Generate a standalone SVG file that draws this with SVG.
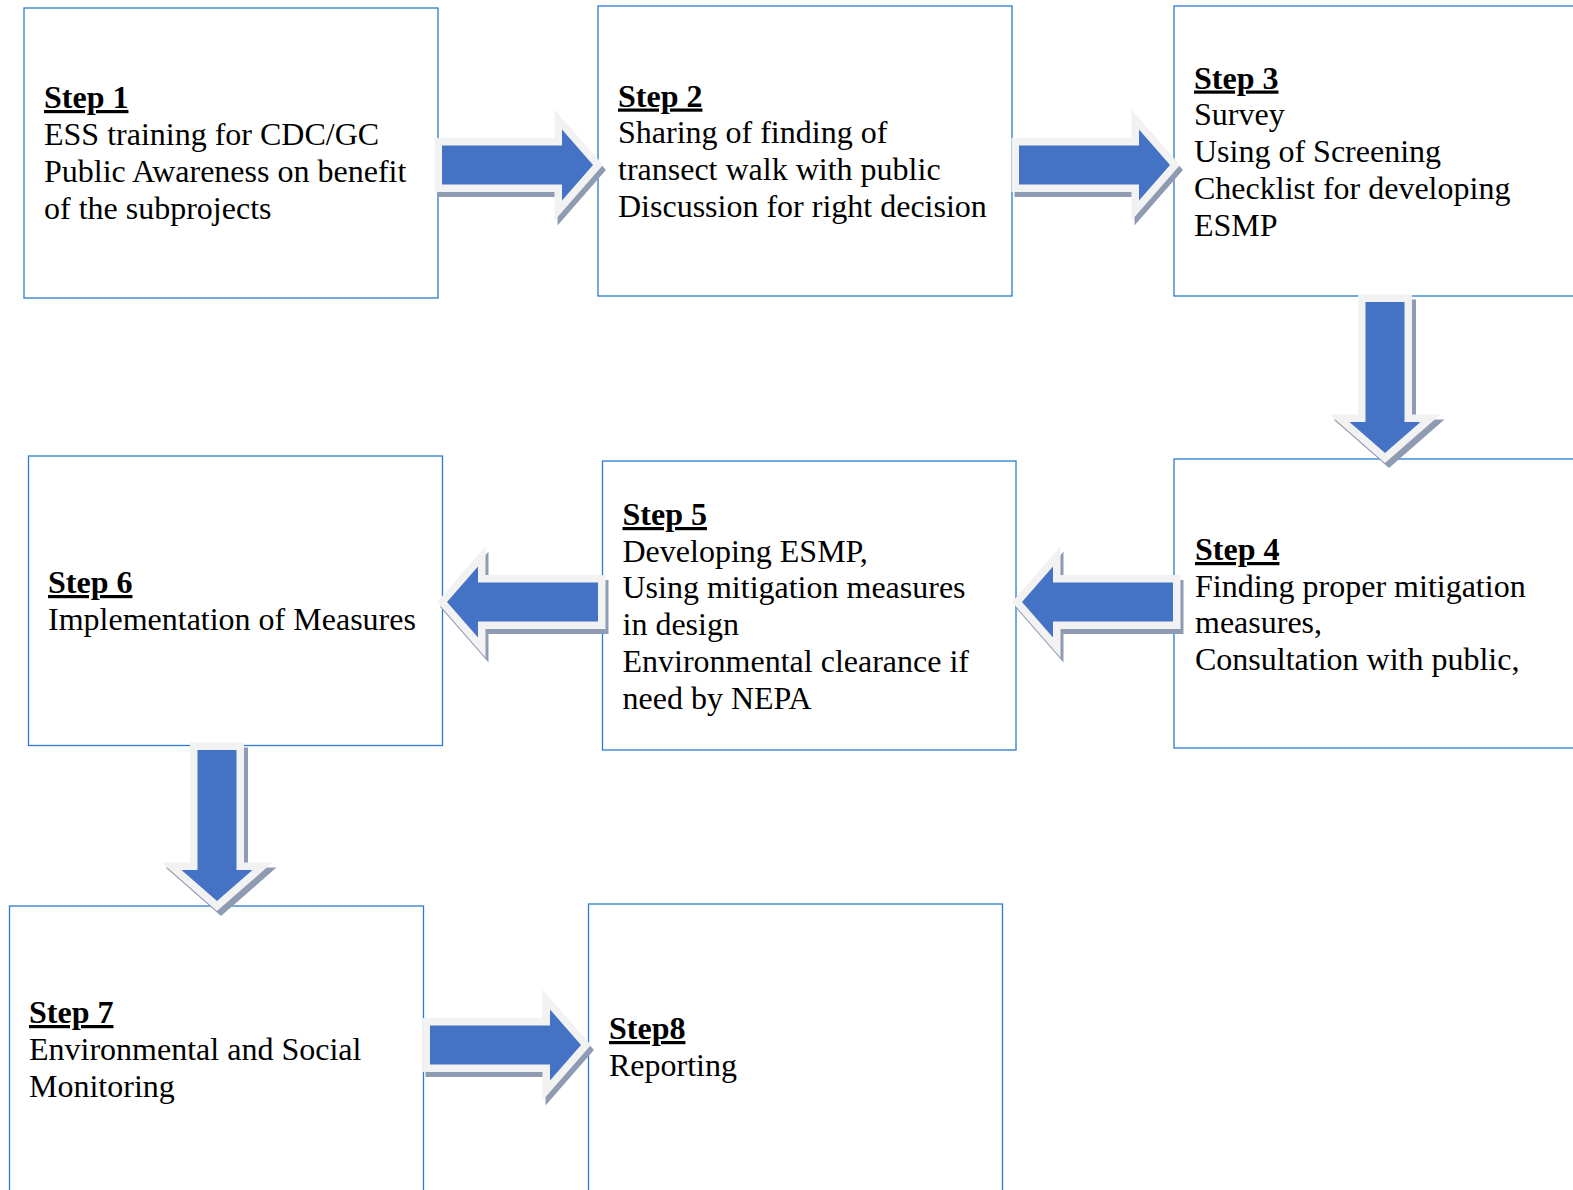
<svg xmlns="http://www.w3.org/2000/svg" xmlns:xlink="http://www.w3.org/1999/xlink" width="1573" height="1190" viewBox="0 0 1573 1190">
<style>
.box{fill:#ffffff;stroke:#2a7ad2;stroke-width:1.3}
.t{font-family:"Liberation Serif","Times New Roman",serif;font-size:32px;fill:#000}
.h{font-weight:bold;text-decoration:underline}
.sh{fill:#8f9bb3;stroke:#8f9bb3;stroke-width:15;stroke-linejoin:miter}
.ol{fill:#f2f2f2;stroke:#f2f2f2;stroke-width:15;stroke-linejoin:miter}
.bl{fill:#4472c4}
</style>
<defs>
<path id="arr" d="M0,-19.5 H120 V-35.5 L151,0 L120,35.5 V19.5 H0 Z"/>
</defs>
<rect width="1573" height="1190" fill="#ffffff"/>
<g id="node-step1">
<rect class="box" x="24" y="8" width="414" height="290"/>
<text class="t" x="44"><tspan class="h" x="44" y="108">Step 1</tspan><tspan x="44" y="144.5">ESS training for CDC/GC</tspan><tspan x="44" y="181.5">Public Awareness on benefit</tspan><tspan x="44" y="218.5">of the subprojects</tspan></text>
</g>
<g id="node-step2">
<rect class="box" x="598" y="6" width="414" height="290"/>
<text class="t"><tspan class="h" x="618" y="106.5">Step 2</tspan><tspan x="618" y="142.5">Sharing of finding of</tspan><tspan x="618" y="179.5">transect walk with public</tspan><tspan x="618" y="216.5">Discussion for right decision</tspan></text>
</g>
<g id="node-step3">
<rect class="box" x="1174" y="6" width="414" height="290"/>
<text class="t"><tspan class="h" x="1194" y="88.5">Step 3</tspan><tspan x="1194" y="124.5">Survey</tspan><tspan x="1194" y="161.5">Using of Screening</tspan><tspan x="1194" y="198.5">Checklist for developing</tspan><tspan x="1194" y="235.5">ESMP</tspan></text>
</g>
<g id="node-step4">
<rect class="box" x="1174" y="459" width="414" height="289"/>
<text class="t"><tspan class="h" x="1195" y="560">Step 4</tspan><tspan x="1195" y="596.5">Finding proper mitigation</tspan><tspan x="1195" y="633">measures,</tspan><tspan x="1195" y="670">Consultation with public,</tspan></text>
</g>
<g id="node-step5">
<rect class="box" x="602.5" y="461" width="413.5" height="289"/>
<text class="t"><tspan class="h" x="622.5" y="525">Step 5</tspan><tspan x="622.5" y="561.5">Developing ESMP,</tspan><tspan x="622.5" y="598">Using mitigation measures</tspan><tspan x="622.5" y="635">in design</tspan><tspan x="622.5" y="672">Environmental clearance if</tspan><tspan x="622.5" y="709">need by NEPA</tspan></text>
</g>
<g id="node-step6">
<rect class="box" x="28.5" y="456" width="414" height="289.5"/>
<text class="t"><tspan class="h" x="48" y="593">Step 6</tspan><tspan x="48" y="630">Implementation of Measures</tspan></text>
</g>
<g id="node-step7">
<rect class="box" x="9.5" y="906" width="414" height="300"/>
<text class="t"><tspan class="h" x="29" y="1023">Step 7</tspan><tspan x="29" y="1059.5">Environmental and Social</tspan><tspan x="29" y="1096.5">Monitoring</tspan></text>
</g>
<g id="node-step8">
<rect class="box" x="588.5" y="904" width="414" height="300"/>
<text class="t"><tspan class="h" x="609" y="1039">Step8</tspan><tspan x="609" y="1076">Reporting</tspan></text>
</g>
<g id="connectors">
<g id="a1"><use xlink:href="#arr" class="sh" transform="translate(445,170)"/><use xlink:href="#arr" class="ol" transform="translate(442,165)"/><use xlink:href="#arr" class="bl" transform="translate(442,165)"/></g>
<g id="a2"><use xlink:href="#arr" class="sh" transform="translate(1022,170)"/><use xlink:href="#arr" class="ol" transform="translate(1019,165)"/><use xlink:href="#arr" class="bl" transform="translate(1019,165)"/></g>
<g id="a3"><use xlink:href="#arr" class="sh" transform="translate(1389,307) rotate(90)"/><use xlink:href="#arr" class="ol" transform="translate(1385,302) rotate(90)"/><use xlink:href="#arr" class="bl" transform="translate(1385,302) rotate(90)"/></g>
<g id="a4"><use xlink:href="#arr" class="sh" transform="translate(601,607) rotate(180)"/><use xlink:href="#arr" class="ol" transform="translate(598,602) rotate(180)"/><use xlink:href="#arr" class="bl" transform="translate(598,602) rotate(180)"/></g>
<g id="a5"><use xlink:href="#arr" class="sh" transform="translate(1176,607) rotate(180)"/><use xlink:href="#arr" class="ol" transform="translate(1173,602) rotate(180)"/><use xlink:href="#arr" class="bl" transform="translate(1173,602) rotate(180)"/></g>
<g id="a6"><use xlink:href="#arr" class="sh" transform="translate(221,755) rotate(90)"/><use xlink:href="#arr" class="ol" transform="translate(217,750) rotate(90)"/><use xlink:href="#arr" class="bl" transform="translate(217,750) rotate(90)"/></g>
<g id="a7"><use xlink:href="#arr" class="sh" transform="translate(433,1050)"/><use xlink:href="#arr" class="ol" transform="translate(430,1045)"/><use xlink:href="#arr" class="bl" transform="translate(430,1045)"/></g>
</g>
</svg>
